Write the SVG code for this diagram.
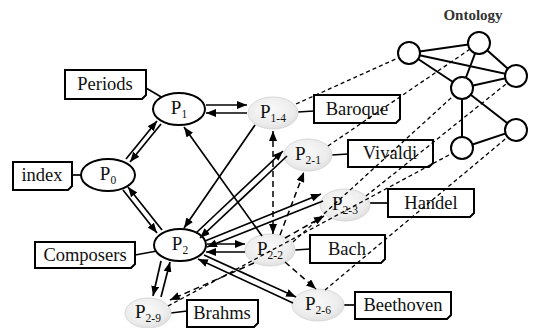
<svg xmlns="http://www.w3.org/2000/svg" width="535" height="328" viewBox="0 0 535 328">
<style>
  .box{fill:#fff;stroke:#000;stroke-width:2}
  .lbl{font-family:"Liberation Serif","Times New Roman",serif;font-size:18.5px;fill:#111;text-anchor:middle}
  .pn{font-family:"Liberation Serif","Times New Roman",serif;font-size:19px;fill:#111;text-anchor:middle}
  .sub{font-size:11.5px}
  .wel{fill:#fff;stroke:#000;stroke-width:2}
  .gel{fill:url(#gg);stroke:#d8d8d8;stroke-width:1}
  .tie{stroke:#000;stroke-width:1.7;fill:none}
  .arr{stroke:#000;stroke-width:1.7;fill:none;marker-end:url(#ah)}
  .darr{stroke:#000;stroke-width:1.5;fill:none;stroke-dasharray:6 4;marker-end:url(#ah)}
  .ont{stroke:#000;stroke-width:1.3;fill:none;stroke-dasharray:4 3}
  .oe{stroke:#000;stroke-width:2;fill:none}
  .oc{fill:#fff;stroke:#000;stroke-width:2}
</style>
<defs>
  <radialGradient id="gg" cx="0.45" cy="0.4" r="0.65">
    <stop offset="0" stop-color="#fafafa"/>
    <stop offset="0.7" stop-color="#ececec"/>
    <stop offset="1" stop-color="#dcdcdc"/>
  </radialGradient>
  <marker id="ah" markerUnits="userSpaceOnUse" markerWidth="10" markerHeight="8" refX="10" refY="4" orient="auto">
    <path d="M0,0 L10,4 L0,8 z" fill="#000"/>
  </marker>
  <marker id="ahs" markerUnits="userSpaceOnUse" markerWidth="10" markerHeight="8" refX="0" refY="4" orient="auto">
    <path d="M10,0 L0,4 L10,8 z" fill="#000"/>
  </marker>
</defs>
<rect width="535" height="328" fill="#fff"/>

<g id="ties">
  <line class="tie" x1="146" y1="88" x2="163" y2="98"/>
  <line class="tie" x1="72" y1="175" x2="82" y2="175"/>
  <line class="tie" x1="135" y1="255" x2="157" y2="251"/>
  <line class="tie" x1="298" y1="112" x2="314" y2="111"/>
  <line class="tie" x1="332" y1="155" x2="348" y2="154"/>
  <line class="tie" x1="370" y1="203" x2="388" y2="203"/>
  <line class="tie" x1="295" y1="250" x2="310" y2="249"/>
  <line class="tie" x1="344" y1="305" x2="355" y2="305"/>
  <line class="tie" x1="171" y1="313" x2="187" y2="311"/>
</g>

<g id="n-periods"><path class="box" d="M65,70 H146 V95 L142,99 H65 Z"/><text class="lbl" x="105" y="90">Periods</text></g>
<g id="n-index"><path class="box" d="M13,162 H72 V186 L68,190 H13 Z"/><text class="lbl" x="42" y="181">index</text></g>
<g id="n-composers"><path class="box" d="M35,242 H135 V264 L131,268 H35 Z"/><text class="lbl" x="85" y="261">Composers</text></g>
<g id="n-baroque"><path class="box" d="M314,95 H400 V119 L396,123 H314 Z"/><text class="lbl" x="357" y="115">Baroque</text></g>
<g id="n-vivaldi"><path class="box" d="M348,140 H433 V163 L429,167 H348 Z"/><text class="lbl" x="390" y="159">Vivaldi</text></g>
<g id="n-handel"><path class="box" d="M388,189 H474 V213 L470,217 H388 Z"/><text class="lbl" x="431" y="209">Handel</text></g>
<g id="n-bach"><path class="box" d="M310,235 H385 V259 L381,263 H310 Z"/><text class="lbl" x="347" y="255">Bach</text></g>
<g id="n-beethoven"><path class="box" d="M355,292 H451 V315 L447,319 H355 Z"/><text class="lbl" x="403" y="311">Beethoven</text></g>
<g id="n-brahms"><path class="box" d="M187,300 H258 V323 L254,327 H187 Z"/><text class="lbl" x="222" y="319">Brahms</text></g>

<g id="n-p0"><ellipse class="wel" cx="108" cy="175" rx="27" ry="16"/><text class="pn" x="108" y="180">P<tspan class="sub" dy="4">0</tspan></text></g>
<g id="n-p1"><ellipse class="wel" cx="179" cy="109" rx="26" ry="16"/><text class="pn" x="179" y="114">P<tspan class="sub" dy="4">1</tspan></text></g>
<g id="n-p2"><ellipse class="wel" cx="180" cy="245" rx="26" ry="16"/><text class="pn" x="180" y="250">P<tspan class="sub" dy="4">2</tspan></text></g>
<g id="n-p14"><ellipse class="gel" cx="273" cy="113" rx="25" ry="16"/><text class="pn" x="273" y="118">P<tspan class="sub" dy="4">1-4</tspan></text></g>
<g id="n-p21"><ellipse class="gel" cx="308" cy="155" rx="24" ry="16"/><text class="pn" x="308" y="160">P<tspan class="sub" dy="4">2-1</tspan></text></g>
<g id="n-p23"><ellipse class="gel" cx="345" cy="205" rx="25" ry="16"/><text class="pn" x="345" y="210">P<tspan class="sub" dy="4">2-3</tspan></text></g>
<g id="n-p22"><ellipse class="gel" cx="270" cy="250" rx="25" ry="16"/><text class="pn" x="270" y="255">P<tspan class="sub" dy="4">2-2</tspan></text></g>
<g id="n-p26"><ellipse class="gel" cx="318" cy="305" rx="26" ry="16"/><text class="pn" x="318" y="310">P<tspan class="sub" dy="4">2-6</tspan></text></g>
<g id="n-p29"><ellipse class="gel" cx="148" cy="313" rx="23" ry="15"/><text class="pn" x="148" y="318">P<tspan class="sub" dy="4">2-9</tspan></text></g>

<g id="connectors">
  <line class="arr" x1="126" y1="159" x2="157" y2="121"/>
  <line class="arr" x1="161" y1="124" x2="130" y2="162"/>
  <line class="arr" x1="123" y1="190" x2="157" y2="233"/>
  <line class="arr" x1="162" y1="230" x2="128" y2="187"/>
  <line class="arr" x1="206" y1="105" x2="247" y2="105"/>
  <line class="arr" x1="247" y1="113" x2="206" y2="113"/>
  <line class="arr" x1="255" y1="125" x2="184" y2="228"/>
  <line class="arr" x1="262" y1="236" x2="184" y2="127"/>
  <line class="arr" x1="196" y1="233" x2="283" y2="151"/>
  <line class="arr" x1="287" y1="156" x2="200" y2="238"/>
  <line class="arr" x1="205" y1="241" x2="321" y2="194"/>
  <line class="arr" x1="323" y1="201" x2="207" y2="247"/>
  <line class="arr" x1="207" y1="244" x2="245" y2="244"/>
  <line class="arr" x1="245" y1="252" x2="206" y2="252"/>
  <line class="arr" x1="204" y1="255" x2="296" y2="297"/>
  <line class="arr" x1="293" y1="303" x2="198" y2="259"/>
  <line class="arr" x1="161" y1="261" x2="153" y2="296"/>
  <line class="arr" x1="161" y1="297" x2="170" y2="262"/>
  <line class="darr" x1="273" y1="131" x2="273" y2="234" style="marker-start:url(#ahs)"/>
  <line class="darr" x1="280" y1="235" x2="304" y2="172"/>
  <line class="darr" x1="285" y1="238" x2="324" y2="216"/>
  <line class="darr" x1="285" y1="262" x2="316" y2="289"/>
  <line class="darr" x1="254" y1="263" x2="170" y2="300"/>
  <line class="ont" x1="296" y1="104" x2="409" y2="53"/>
  <line class="ont" x1="328" y1="146" x2="479" y2="43"/>
  <line class="ont" x1="366" y1="196" x2="516" y2="76"/>
  <line class="ont" x1="293" y1="242" x2="462" y2="88"/>
  <line class="ont" x1="325" y1="290" x2="516" y2="130"/>
  <line class="ont" x1="168" y1="306" x2="462" y2="148"/>
</g>

<g id="ontology">
  <text x="473" y="20" style="font-family:'Liberation Serif','Times New Roman',serif;font-size:15px;font-weight:bold;fill:#333;text-anchor:middle">Ontology</text>
  <g id="ont-edges">
    <line class="oe" x1="409" y1="53" x2="479" y2="43"/>
    <line class="oe" x1="409" y1="53" x2="516" y2="76"/>
    <line class="oe" x1="409" y1="53" x2="462" y2="88"/>
    <line class="oe" x1="479" y1="43" x2="462" y2="88"/>
    <line class="oe" x1="479" y1="43" x2="516" y2="76"/>
    <line class="oe" x1="462" y1="88" x2="516" y2="76"/>
    <line class="oe" x1="462" y1="88" x2="462" y2="148"/>
    <line class="oe" x1="462" y1="88" x2="516" y2="130"/>
    <line class="oe" x1="462" y1="148" x2="516" y2="130"/>
  </g>
  <g id="o-a"><circle class="oc" cx="409" cy="53" r="11"/></g>
  <g id="o-b"><circle class="oc" cx="479" cy="43" r="11"/></g>
  <g id="o-c"><circle class="oc" cx="516" cy="76" r="11"/></g>
  <g id="o-d"><circle class="oc" cx="462" cy="88" r="11"/></g>
  <g id="o-e"><circle class="oc" cx="516" cy="130" r="11"/></g>
  <g id="o-f"><circle class="oc" cx="462" cy="148" r="11"/></g>
</g>
</svg>
